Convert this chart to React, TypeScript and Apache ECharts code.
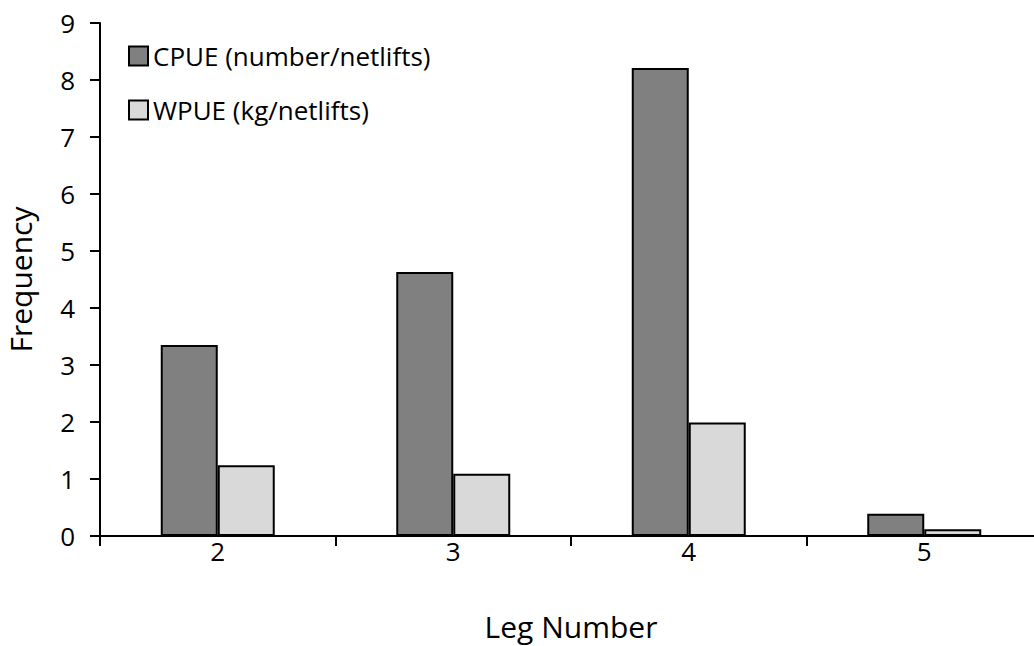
import React, { useEffect, useRef } from "react";
import * as echarts from "echarts";

const categories = ["2", "3", "4", "5"];
const cpue = [3.35, 4.63, 8.21, 0.39];
const wpue = [1.24, 1.09, 1.99, 0.12];
const seriesNames = ["CPUE (number/netlifts)", "WPUE (kg/netlifts)"];

const FONT = "'Open Sans', Lato, sans-serif";

export default function App() {
  const ref = useRef<HTMLDivElement>(null);
  useEffect(() => {
    if (!ref.current) return;
    const chart = echarts.init(ref.current, undefined, { renderer: "svg" });
    chart.setOption({
      animation: false,
      backgroundColor: "#ffffff",
      textStyle: { fontFamily: FONT, color: "#000" },
      legend: {
        orient: "vertical",
        left: 123,
        top: 38,
        itemGap: 28,
        itemWidth: 19,
        itemHeight: 19,
        itemStyle: { borderColor: "#000", borderWidth: 2 },
        textStyle: { fontSize: 26, color: "#000", fontFamily: FONT },
        data: seriesNames.map((n) => ({ name: n, icon: "rect" })),
      },
      grid: { left: 100, right: -8, top: 23, bottom: 110, containLabel: false, outerBoundsMode: "none" },
      xAxis: {
        type: "category",
        data: categories,
        name: "Leg Number",
        nameLocation: "middle",
        nameGap: 75,
        nameTextStyle: { fontSize: 30, color: "#000", fontFamily: FONT },
        axisLine: { lineStyle: { color: "#000", width: 2 } },
        axisTick: { show: true, alignWithLabel: false, length: 10, lineStyle: { color: "#000", width: 2 } },
        axisLabel: { fontSize: 26, color: "#000", margin: 2, fontFamily: FONT },
      },
      yAxis: {
        type: "value",
        min: 0,
        max: 9,
        interval: 1,
        name: "Frequency",
        nameLocation: "middle",
        nameGap: 65,
        nameRotate: 90,
        nameTextStyle: { fontSize: 30, color: "#000", fontFamily: FONT },
        axisLine: { show: true, lineStyle: { color: "#000", width: 2 } },
        axisTick: { show: true, length: 10, lineStyle: { color: "#000", width: 2 } },
        axisLabel: { fontSize: 26, color: "#000", margin: 25, fontFamily: FONT },
        splitLine: { show: false },
      },
      series: [
        {
          name: seriesNames[0],
          type: "bar",
          data: cpue,
          barWidth: 57,
          barGap: "0%",
          itemStyle: { color: "#808080", borderColor: "#000", borderWidth: 2 },
        },
        {
          name: seriesNames[1],
          type: "bar",
          data: wpue,
          barWidth: 57,
          barGap: "0%",
          itemStyle: { color: "#d9d9d9", borderColor: "#000", borderWidth: 2 },
        },
      ],
    });
    return () => chart.dispose();
  }, []);
  return (
    <div
      ref={ref}
      style={{ position: "fixed", left: 0, top: 0, width: 1034, height: 646 }}
    />
  );
}
